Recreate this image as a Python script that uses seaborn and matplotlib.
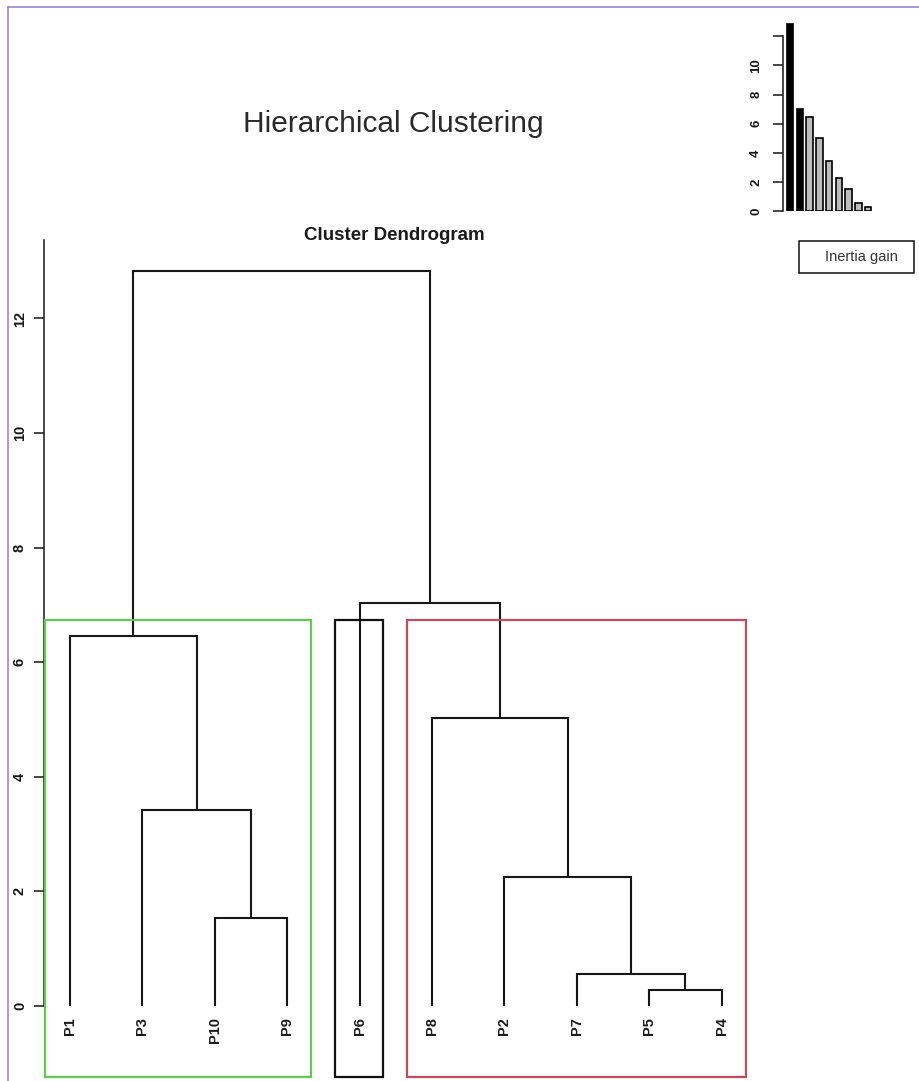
import matplotlib
matplotlib.use("Agg")
import matplotlib.pyplot as plt
from matplotlib import font_manager
from matplotlib.patches import Rectangle
from matplotlib.lines import Line2D
import numpy as np
import pandas as pd
import seaborn as sns

# Leaf order of the dendrogram, left to right
leaf_order = ["P1", "P3", "P10", "P9", "P6", "P8", "P2", "P7", "P5", "P4"]

# Agglomeration steps: the two children joined at each step and the join height.
# "mN" names the node created at step N (1-based).
merge_left = ["P5", "P7", "P10", "P2", "P3", "P8", "P1", "P6", "m7"]
merge_right = ["P4", "m1", "P9", "m2", "m3", "m4", "m5", "m6", "m8"]
merge_height = [0.28, 0.56, 1.54, 2.25, 3.42, 5.03, 6.45, 7.04, 12.83]

# Cut into 3 clusters: sizes along the leaf order and box colours
n_clusters = 3
cluster_sizes = [4, 1, 5]
box_colors = ["#62C955", "#111111", "#C54A5E"]

y_ticks = [0, 2, 4, 6, 8, 10, 12]
inset_ticks = [0, 2, 4, 6, 8, 10, 12]
inset_tick_labels = ["0", "2", "4", "6", "8", "10", ""]

title_text = "Hierarchical Clustering"
subtitle_text = "Cluster Dendrogram"
legend_text = "Inertia gain"

sns.set_theme(style="ticks")
plt.rcParams["font.family"] = ["Liberation Sans", "DejaVu Sans"]

installed = {f.name for f in font_manager.fontManager.ttflist}
if "Liberation Sans Narrow" in installed:
    title_family, title_size = ["Liberation Sans Narrow", "Liberation Sans"], 26
else:
    title_family, title_size = ["Liberation Sans", "DejaVu Sans"], 21.5

W, H = 920, 1081
fig = plt.figure(figsize=(W / 100, H / 100), dpi=100)
fig.patch.set_facecolor("white")


def axes_px(x0, y_top, x1, y_bottom):
    return fig.add_axes([x0 / W, 1 - y_bottom / H, (x1 - x0) / W, (y_bottom - y_top) / H])


LINE = "#161616"

# ---- main dendrogram -------------------------------------------------------
ax = axes_px(43.9, 240, 747.7, 1077)
ax.set_facecolor("none")
y_low, y_high = -1.24, 13.37
ax.set_xlim(0.64, 10.36)
ax.set_ylim(y_low, y_high)

pos = {name: i + 1 for i, name in enumerate(leaf_order)}
hgt = {name: 0.0 for name in leaf_order}
for step, (left, right, h) in enumerate(zip(merge_left, merge_right, merge_height), start=1):
    xl, xr = pos[left], pos[right]
    ax.plot([xl, xl, xr, xr], [hgt[left], h, h, hgt[right]], color=LINE, lw=1.5,
            solid_joinstyle="miter", solid_capstyle="butt", zorder=3)
    pos[f"m{step}"] = (xl + xr) / 2
    hgt[f"m{step}"] = h

# leaf labels hanging below the leaves
for name in leaf_order:
    ax.text(pos[name], -0.19, name, rotation=90, ha="center", va="top",
            fontsize=10.5, fontweight="bold", color="#1a1a1a")

# cluster boxes: top halfway between the (k-1)th and kth highest joins
heights_desc = sorted(merge_height, reverse=True)
box_top = (heights_desc[n_clusters - 2] + heights_desc[n_clusters - 1]) / 2
edges = np.concatenate([[0], np.cumsum(cluster_sizes)])
for a, b, col in zip(edges[:-1], edges[1:], box_colors):
    ax.add_patch(Rectangle((a + 0.66, y_low), (b + 0.33) - (a + 0.66), box_top - y_low,
                           fill=False, ec=col, lw=1.6, clip_on=False, zorder=4))

for side in ("top", "right", "bottom"):
    ax.spines[side].set_visible(False)
ax.spines["left"].set_bounds(0, y_high)
ax.spines["left"].set_color(LINE)
ax.spines["left"].set_linewidth(1.1)
ax.set_xticks([])
ax.set_yticks(y_ticks)
ax.set_yticklabels([str(t) for t in y_ticks], rotation=90, va="center", fontweight="bold")
ax.tick_params(axis="y", direction="out", length=7.2, width=1.1, pad=5,
               labelsize=10.5, colors=LINE)

# ---- inertia gain inset ------------------------------------------------------
axi = axes_px(783.3, 23.3, 873, 211)
axi.set_facecolor("none")
gain = pd.DataFrame({
    "step": np.arange(1, len(heights_desc) + 1),
    "gain": heights_desc,
    "kept": ["cut" if i < n_clusters - 1 else "rest" for i in range(len(heights_desc))],
})
sns.barplot(data=gain, x="step", y="gain", hue="kept",
            palette={"cut": "#000000", "rest": "#BDBDBD"}, dodge=False,
            width=0.67, edgecolor="#000000", linewidth=1.2, legend=False, ax=axi)
axi.set_xlim(-0.7, 8.5)
axi.set_ylim(0, 12.9)
for side in ("top", "right", "bottom"):
    axi.spines[side].set_visible(False)
axi.spines["left"].set_bounds(0, 12)
axi.spines["left"].set_linewidth(1.1)
axi.spines["left"].set_color(LINE)
axi.set_xticks([])
axi.set_xlabel("")
axi.set_ylabel("")
axi.set_yticks(inset_ticks)
axi.set_yticklabels(inset_tick_labels, rotation=90, va="center", fontweight="bold")
axi.tick_params(axis="y", direction="out", length=7.2, width=1.1, pad=8,
                labelsize=9.5, colors=LINE)

# legend box for the inset
fig.add_artist(Rectangle((799 / W, 1 - 273.3 / H), (914.3 - 799) / W, (273.3 - 240.7) / H,
                         transform=fig.transFigure, fill=False, ec="#111111", lw=1.1))
fig.text(825 / W, 1 - 257.5 / H, legend_text, ha="left", va="center",
         fontsize=10.5, color="#333333")

# ---- titles --------------------------------------------------------------------
fig.text(393 / W, 1 - 132 / H, title_text, ha="center", va="baseline",
         fontsize=title_size, family=title_family, color="#2a2a2a")
fig.text(394 / W, 1 - 240 / H, subtitle_text, ha="center", va="baseline",
         fontsize=13.5, fontweight="bold", color="#1a1a1a")

# thin frame on the top and left edges
frame_col = "#9C88D2"
fig.add_artist(Line2D([8 / W, 8 / W], [0, 1 - 7 / H], transform=fig.transFigure,
                      color=frame_col, lw=1.2))
fig.add_artist(Line2D([8 / W, 1], [1 - 7 / H, 1 - 7 / H], transform=fig.transFigure,
                      color=frame_col, lw=1.2))

fig.savefig("out.png", dpi=100, facecolor="white")
